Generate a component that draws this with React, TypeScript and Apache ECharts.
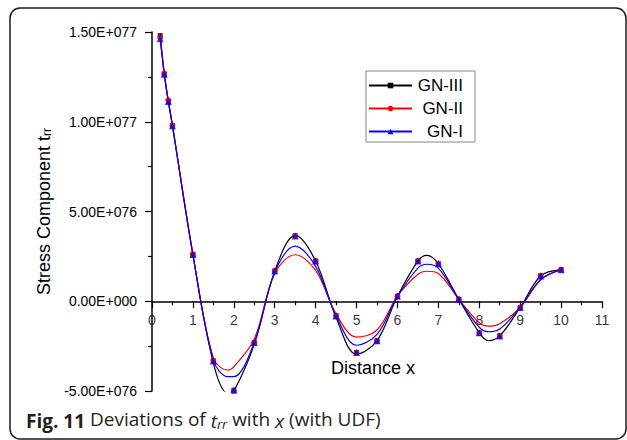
import React, { useEffect, useRef } from "react";
import * as echarts from "echarts";

// values are in units of 1E+076
const seriesNames = ["GN-III", "GN-II", "GN-I"];
const seriesColors = ["#000000", "#ff0000", "#0000ff"];
const seriesSymbols = ["rect", "circle", "triangle"];

const markerX = [0.2, 0.3, 0.4, 0.5, 1, 1.5, 2, 2.5, 3, 3.5, 4, 4.5, 5, 5.5, 6, 6.5, 7, 7.5, 8, 8.5, 9, 9.5, 10];
const gn3Markers = [14.8, 12.65, 11.13, 9.78, 2.6, -3.33, -4.96, -2.3, 1.68, 3.65, 2.24, -0.82, -2.85, -2.2, 0.28, 2.24, 2.09, 0.11, -1.76, -1.93, -0.35, 1.41, 1.76];
const gn2Markers = [14.68, 12.7, 11.2, 9.8, 2.62, -3.3, -5.0, -2.3, 1.7, 3.65, 2.24, -0.8, -2.88, -2.2, 0.28, 2.24, 2.1, 0.11, -1.76, -1.93, -0.35, 1.42, 1.76];
const gn1Markers = [14.63, 12.65, 11.13, 9.78, 2.6, -3.33, -4.94, -2.3, 1.68, 3.63, 2.24, -0.82, -2.85, -2.2, 0.28, 2.24, 2.09, 0.11, -1.76, -1.93, -0.35, 1.41, 1.76];

const curveX = [0.2, 0.3, 0.4, 0.5, 1, 1.5, 1.85, 2, 2.5, 3, 3.5, 4, 4.5, 5, 5.5, 6, 6.5, 6.72, 7, 7.5, 8, 8.22, 8.5, 9, 9.5, 10];
const gn3Curve = [14.9, 12.65, 11.13, 9.78, 2.6, -3.45, -5.12, -5.0, -2.4, 1.68, 3.67, 2.24, -0.9, -2.95, -2.2, 0.28, 2.24, 2.56, 2.09, 0.11, -1.76, -2.2, -1.93, -0.35, 1.41, 1.76];
const gn2Curve = [14.7, 12.7, 11.15, 9.8, 2.6, -3.17, -3.83, -3.65, -2.1, 1.55, 2.59, 1.72, -0.7, -2.0, -1.6, 0.28, 1.5, 1.67, 1.55, 0.11, -1.2, -1.39, -1.25, -0.35, 1.2, 1.76];
const gn1Curve = [14.63, 12.65, 11.13, 9.78, 2.6, -3.28, -4.2, -4.2, -2.3, 1.6, 3.07, 1.94, -0.8, -2.45, -1.85, 0.28, 1.85, 2.06, 1.85, 0.11, -1.45, -1.7, -1.55, -0.35, 1.2, 1.76];

const xTickValues = [0, 1, 2, 3, 4, 5, 6, 7, 8, 9, 10, 11];
const xTickLabels = ["0", "1", "2", "3", "4", "5", "6", "7", "8", "9", "10", "11"];
const yTickValues = [-5, 0, 5, 10, 15];
const yTickLabels = ["-5.00E+076", "0.00E+000", "5.00E+076", "1.00E+077", "1.50E+077"];

const FONT = "Liberation Sans, Arial, sans-serif";
const CAP = "Open Sans, sans-serif";

export default function App() {
  const ref = useRef<HTMLDivElement>(null);
  useEffect(() => {
    if (!ref.current) return;
    const chart = echarts.init(ref.current, undefined, { renderer: "svg" });
    const curves = [gn3Curve, gn2Curve, gn1Curve];
    const markers = [gn3Markers, gn2Markers, gn1Markers];
    const markerSizes = [5, 6, 7];
    const series: any[] = [];
    curves.forEach((c, i) => {
      series.push({
        name: seriesNames[i],
        type: "line",
        data: curveX.map((x, k) => [x, c[k]]),
        smooth: 0.35,
        showSymbol: false,
        symbol: seriesSymbols[i],
        symbolSize: markerSizes[i],
        lineStyle: { color: seriesColors[i], width: 1.2 },
        itemStyle: { color: seriesColors[i] },
        z: 2 + i,
      });
    });
    markers.forEach((m, i) => {
      series.push({
        name: seriesNames[i] + " points",
        type: "scatter",
        data: markerX.map((x, k) => [x, m[k]]),
        symbol: seriesSymbols[i],
        symbolSize: markerSizes[i],
        itemStyle: { color: seriesColors[i] },
        z: 6 + i,
      });
    });
    // x tick labels placed just under the zero line (the axis crosses at y = 0)
    series.push({
      name: "xTickLabels",
      type: "scatter",
      data: xTickValues.map((x, k) => ({ value: [x, 0], name: xTickLabels[k] })),
      symbolSize: 0,
      silent: true,
      label: {
        show: true,
        position: "bottom",
        distance: 12,
        formatter: (p: any) => p.name,
        fontSize: 14,
        color: "#000",
        fontFamily: FONT,
      },
      z: 1,
    });
    chart.setOption({
      animation: false,
      backgroundColor: "#ffffff",
      textStyle: { fontFamily: FONT },
      grid: { left: 152, right: 25, top: 32, bottom: 49, containLabel: false, outerBoundsMode: "none" },
      legend: {
        data: seriesNames,
        orient: "vertical",
        left: 366,
        top: 71,
        padding: [6, 12, 2, 2],
        itemWidth: 43,
        itemHeight: 7,
        itemGap: 6,
        borderColor: "#888888",
        borderWidth: 1,
        formatter: (n: string) => `{t|${n}}`,
        textStyle: {
          color: "#000",
          fontFamily: FONT,
          fontSize: 17,
          rich: { t: { width: 46, align: "right", fontSize: 17, fontFamily: FONT, color: "#000" } },
        },
      },
      xAxis: {
        type: "value",
        min: 0,
        max: 11,
        interval: 1,
        axisLine: { onZero: true, lineStyle: { color: "#000", width: 1.5 } },
        axisTick: { show: true, inside: false, length: 7, lineStyle: { color: "#000", width: 1.2 } },
        minorTick: { show: true, splitNumber: 2, length: 4, lineStyle: { color: "#000", width: 1.2 } },
        axisLabel: { show: false },
        splitLine: { show: false },
      },
      yAxis: {
        type: "value",
        min: -5,
        max: 15,
        interval: 5,
        name: "{a|Stress Component t}{s|rr}",
        nameLocation: "middle",
        nameGap: 98,
        nameTextStyle: {
          fontSize: 18,
          color: "#000",
          fontFamily: FONT,
          rich: {
            a: { fontSize: 18, fontFamily: FONT, color: "#000", verticalAlign: "bottom", lineHeight: 22 },
            s: { fontSize: 12, fontFamily: FONT, color: "#000", verticalAlign: "bottom", lineHeight: 12, padding: [8, 0, 0, 0] },
          },
        },
        axisLine: { show: true, onZero: false, lineStyle: { color: "#000", width: 1.5 } },
        axisTick: { show: true, inside: false, length: 7, lineStyle: { color: "#000", width: 1.2 } },
        minorTick: { show: true, splitNumber: 2, length: 4, lineStyle: { color: "#000", width: 1.2 } },
        axisLabel: {
          margin: 15,
          fontSize: 14,
          color: "#000",
          fontFamily: FONT,
          formatter: (v: number) => {
            const idx = yTickValues.findIndex((t) => Math.abs(t - v) < 1e-6);
            return idx >= 0 ? yTickLabels[idx] : "";
          },
        },
        splitLine: { show: false },
      },
      graphic: [
        {
          type: "rect",
          shape: { x: 10, y: 8, width: 616, height: 431, r: 10 },
          style: { fill: "none", stroke: "#1a1a1a", lineWidth: 1.5 },
          silent: true,
          z: 0,
        },
        {
          type: "text",
          x: 373,
          y: 368,
          style: {
            text: "Distance x",
            fontFamily: FONT,
            fontSize: 18,
            fill: "#000",
            align: "center",
            verticalAlign: "middle",
          },
        },
        {
          type: "text",
          left: 26,
          top: 409,
          style: {
            text: "{b|Fig. 11} Deviations of {i|t}{s|rr} with {i|x} (with UDF)",
            fontFamily: CAP,
            fontSize: 19,
            fill: "#231f20",
            rich: {
              b: { fontFamily: CAP, fontWeight: "bold", fontSize: 19, fill: "#231f20", verticalAlign: "bottom", lineHeight: 24 },
              i: { fontFamily: CAP, fontStyle: "italic", fontSize: 19, fill: "#231f20", verticalAlign: "bottom", lineHeight: 24 },
              s: { fontFamily: CAP, fontStyle: "italic", fontSize: 13, fill: "#231f20", verticalAlign: "bottom", lineHeight: 13 },
            },
          },
        },
      ],
      series,
    });
    return () => chart.dispose();
  }, []);
  return <div ref={ref} style={{ position: "absolute", left: 0, top: 0, width: 627, height: 440 }} />;
}
